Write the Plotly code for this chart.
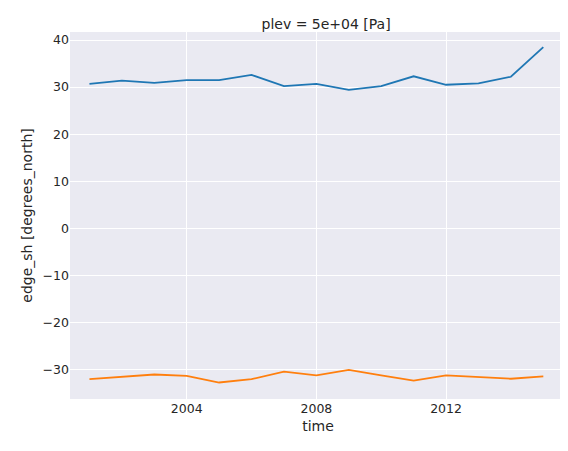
import plotly.graph_objects as go

years = list(range(2001, 2016))
edge_nh = [30.7, 31.4, 30.9, 31.5, 31.5, 32.6, 30.2, 30.7, 29.4, 30.2, 32.3, 30.5, 30.8, 32.2, 38.5]
edge_sh = [-32.0, -31.5, -31.0, -31.3, -32.7, -32.0, -30.4, -31.2, -30.0, -31.2, -32.3, -31.2, -31.5, -31.9, -31.4]
xticks = [2004, 2008, 2012]
yticks = [-30, -20, -10, 0, 10, 20, 30, 40]

fig = go.Figure()
fig.add_trace(go.Scatter(x=years, y=edge_nh, mode="lines", line=dict(color="#1f77b4", width=1.8)))
fig.add_trace(go.Scatter(x=years, y=edge_sh, mode="lines", line=dict(color="#ff7f0e", width=1.8)))
fig.update_layout(
    width=568, height=451, showlegend=False,
    paper_bgcolor="white", plot_bgcolor="#eaeaf2",
    font=dict(family="DejaVu Sans", size=12, color="#262626"),
    margin=dict(l=62, r=10, t=24, b=60),
    title=dict(text="plev = 5e+04 [Pa]", x=0.56, xanchor="center", y=0.975, font=dict(size=14)),
)
fig.update_xaxes(range=[2000.4, 2015.7], tickvals=xticks, ticktext=[str(t) for t in xticks],
                 gridcolor="white", gridwidth=1, zeroline=False, showline=False, ticks="",
                 tickfont=dict(size=12.5), title=dict(text="time", standoff=6))
fig.update_yaxes(range=[-36.2, 41.7], tickvals=yticks, ticktext=[str(t).replace("-", "−") for t in yticks],
                 gridcolor="white", gridwidth=1, zeroline=False, showline=False, ticks="",
                 tickfont=dict(size=12.5), title=dict(text="edge_sh [degrees_north]", standoff=6))
fig.write_html("out.html")
